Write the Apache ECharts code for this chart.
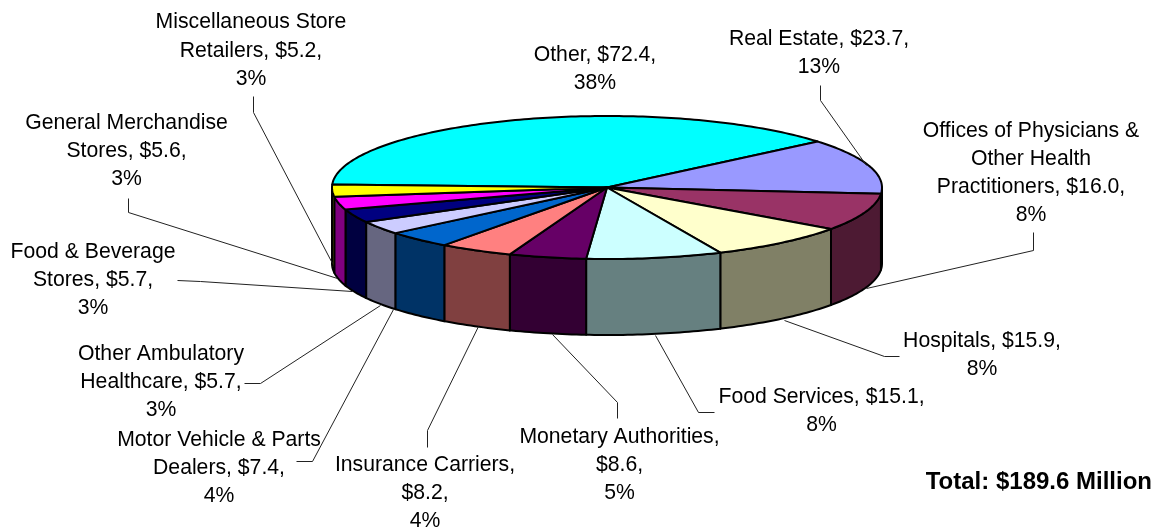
<!DOCTYPE html>
<html><head><meta charset="utf-8">
<style>html,body{margin:0;padding:0;background:#fff}#c{width:1155px;height:529px}</style>
<script src="https://cdn.jsdelivr.net/npm/echarts@6/dist/echarts.min.js"></script>
</head><body><div id="c"></div>
<script>
const categories = ["Other","Real Estate","Offices of Physicians & Other Health Practitioners","Hospitals","Food Services","Monetary Authorities","Insurance Carriers","Motor Vehicle & Parts Dealers","Other Ambulatory Healthcare","Food & Beverage Stores","General Merchandise Stores","Miscellaneous Store Retailers"];
const values = [72.4,23.7,16.0,15.9,15.1,8.6,8.2,7.4,5.7,5.7,5.6,5.2];
const topColors = ["#00FFFF","#9999FF","#993366","#FFFFCC","#CCFFFF","#660066","#FF8080","#0066CC","#CCCCFF","#000080","#FF00FF","#FFFF00"];
const labelLines = [
 ["Other, $72.4,","38%"],
 ["Real Estate, $23.7,","13%"],
 ["Offices of Physicians &","Other Health","Practitioners, $16.0,","8%"],
 ["Hospitals, $15.9,","8%"],
 ["Food Services, $15.1,","8%"],
 ["Monetary Authorities,","$8.6,","5%"],
 ["Insurance Carriers,","$8.2,","4%"],
 ["Motor Vehicle & Parts","Dealers, $7.4,","4%"],
 ["Other Ambulatory","Healthcare, $5.7,","3%"],
 ["Food & Beverage","Stores, $5.7,","3%"],
 ["General Merchandise","Stores, $5.6,","3%"],
 ["Miscellaneous Store","Retailers, $5.2,","3%"]
];
const totalLabel = "Total: $189.6 Million";
const labelPos = [[595,55],[819,39],[1031,131],[982,341],[821.5,397],[619.5,437],[425,465],[219,440],[161,354],[93,252],[126.5,123],[251,22.5]];
const leaders = [null,
 [[820,85],[820,100],[866,165]],
 [[1033,232],[1033,250],[866,288]],
 [[899,356],[884,356],[784,320]],
 [[714,412],[698,412],[655,335]],
 [[617,418],[617,402],[552,334]],
 [[427,447],[427,430],[478,326]],
 [[296,461],[312,461],[393,309]],
 [[244,383],[260,383],[380,305]],
 [[177,280],[200,281],[352,291]],
 [[128,198],[128,212],[337,278]],
 [[253,96],[253,112],[332,263]]
];
const cx=607, cy=187.5, rx=275, ry=71.5, depth=76, startDeg=177.5;
const total = values.reduce((a,b)=>a+b,0);
const FONT = '"Liberation Sans", Arial, sans-serif';
const LH = 28.2;

function darker(hex){
  const n=parseInt(hex.slice(1),16);
  const f=v=>Math.round(v/2);
  return `rgb(${f(n>>16&255)},${f(n>>8&255)},${f(n&255)})`;
}
function pt(deg,dy){const r=deg*Math.PI/180;return [cx+rx*Math.cos(r),cy-ry*Math.sin(r)+(dy||0)];}

function renderSlice(params,api){
  const i=params.dataIndex;
  let acc=0;
  for(let k=0;k<i;k++) acc+=values[k];
  const v=api.value(0);
  const a0=startDeg-acc/total*360, a1=a0-v/total*360;
  const children=[];
  const hi=Math.min(a0,0), lo=Math.max(a1,-180);
  if(hi>lo){
    const upper=[],lower=[];
    for(let d=hi;d>lo;d-=1){upper.push(pt(d,0));lower.unshift(pt(d,depth));}
    upper.push(pt(lo,0));lower.unshift(pt(lo,depth));
    children.push({type:'polygon',shape:{points:upper.concat(lower)},
      style:{fill:darker(topColors[i]),stroke:'#000',lineWidth:2,lineJoin:'round'}});
  }
  const top=[[cx,cy]];
  for(let d=a0;d>a1;d-=1) top.push(pt(d,0));
  top.push(pt(a1,0));
  children.push({type:'polygon',shape:{points:top},
    style:{fill:topColors[i],stroke:'#000',lineWidth:2,lineJoin:'round'}});
  return {type:'group',children};
}

const graphics=[];
labelLines.forEach((lines,i)=>{
  lines.forEach((t,j)=>{
    graphics.push({type:'text',silent:true,x:labelPos[i][0],y:labelPos[i][1]+j*LH,z:10,
      style:{text:t,fill:'#000',font:'21.2px '+FONT,textAlign:'center',textVerticalAlign:'middle'}});
  });
  if(leaders[i]) graphics.push({type:'polyline',silent:true,z:5,
      shape:{points:leaders[i].map(p=>[p[0]+0.5,p[1]+0.5])},
      style:{stroke:'#222',lineWidth:1,fill:null}});
});
graphics.push({type:'text',silent:true,x:1152,y:482,z:10,
  style:{text:totalLabel,fill:'#000',font:'bold 24px '+FONT,textAlign:'right',textVerticalAlign:'middle'}});

const chart=echarts.init(document.getElementById('c'),null,{renderer:'canvas'});
chart.setOption({
  animation:false,
  backgroundColor:'#fff',
  graphic:graphics,
  series:[{type:'custom',coordinateSystem:'none',renderItem:renderSlice,silent:true,z:2,
    data:values.map((v,i)=>({name:categories[i],value:[v]}))}]
});
</script></body></html>
